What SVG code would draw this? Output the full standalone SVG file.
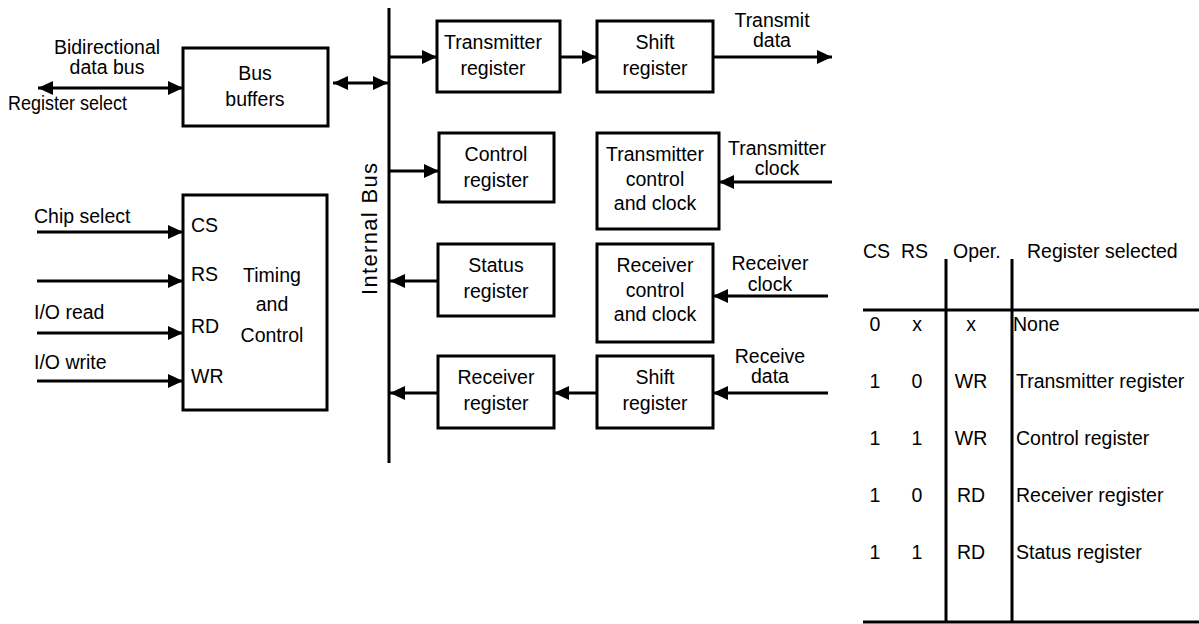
<svg xmlns="http://www.w3.org/2000/svg" width="1199" height="624" viewBox="0 0 1199 624">
<defs>
<marker id="ah" markerUnits="userSpaceOnUse" markerWidth="16" markerHeight="16" refX="15" refY="8" orient="auto-start-reverse">
<path d="M0,1 L15,8 L0,15 Z" fill="#000"/>
</marker>
</defs>
<style>
text{font-family:"Liberation Sans",Arial,sans-serif;font-size:19.5px;fill:#000}
.c{text-anchor:middle}
.box{fill:#fff;stroke:#000;stroke-width:3}
.ln{stroke:#000;stroke-width:3;fill:none}
.a{stroke:#000;stroke-width:3;fill:none;marker-end:url(#ah)}
.d{stroke:#000;stroke-width:3;fill:none;marker-end:url(#ah);marker-start:url(#ah)}
</style>
<rect width="1199" height="624" fill="#fff"/>

<g id="connectors">
<line class="ln" x1="389" y1="8" x2="389" y2="463"/>
<line class="d" x1="38" y1="88" x2="183" y2="88"/>
<line class="d" x1="333" y1="83" x2="388" y2="83"/>
<line class="a" x1="389" y1="57" x2="437" y2="57"/>
<line class="a" x1="560" y1="57" x2="597" y2="57"/>
<line class="a" x1="713" y1="57" x2="832" y2="57"/>
<line class="a" x1="389" y1="171" x2="439" y2="171"/>
<line class="a" x1="832" y1="182" x2="719" y2="182"/>
<line class="a" x1="438" y1="281" x2="390" y2="281"/>
<line class="a" x1="828" y1="296" x2="713" y2="296"/>
<line class="a" x1="438" y1="393" x2="390" y2="393"/>
<line class="a" x1="597" y1="393" x2="554" y2="393"/>
<line class="a" x1="828" y1="393" x2="713" y2="393"/>
<line class="a" x1="37" y1="232" x2="183" y2="232"/>
<line class="a" x1="37" y1="281" x2="183" y2="281"/>
<line class="a" x1="37" y1="333" x2="183" y2="333"/>
<line class="a" x1="37" y1="381" x2="183" y2="381"/>
</g>

<g id="labels">
<text class="c" x="107" y="54">Bidirectional</text>
<text class="c" x="107" y="74">data bus</text>
<text x="8" y="110" textLength="119" lengthAdjust="spacingAndGlyphs">Register select</text>
<text class="c" x="772" y="27">Transmit</text>
<text class="c" x="772" y="47">data</text>
<text class="c" x="777" y="155">Transmitter</text>
<text class="c" x="777" y="175">clock</text>
<text class="c" x="770" y="270">Receiver</text>
<text class="c" x="770" y="291">clock</text>
<text class="c" x="770" y="363">Receive</text>
<text class="c" x="770" y="383">data</text>
<text x="34" y="223">Chip select</text>
<text x="34" y="319">I/O read</text>
<text x="34" y="369">I/O write</text>
<text class="c" transform="translate(377,229) rotate(-90)" style="font-size:22px" textLength="132" lengthAdjust="spacing">Internal Bus</text>
</g>

<g id="bus-buffers">
<rect class="box" x="183" y="48" width="145" height="78"/>
<text class="c" x="255" y="80">Bus</text>
<text class="c" x="255" y="106">buffers</text>
</g>
<g id="transmitter-register">
<rect class="box" x="437" y="21" width="123" height="71"/>
<text class="c" x="493" y="49">Transmitter</text>
<text class="c" x="493" y="75">register</text>
</g>
<g id="tx-shift-register">
<rect class="box" x="597" y="21" width="116" height="71"/>
<text class="c" x="655" y="49">Shift</text>
<text class="c" x="655" y="75">register</text>
</g>
<g id="control-register">
<rect class="box" x="439" y="133" width="115" height="69"/>
<text class="c" x="496" y="161">Control</text>
<text class="c" x="496" y="187">register</text>
</g>
<g id="transmitter-control">
<rect class="box" x="597" y="133" width="122" height="96"/>
<text class="c" x="655" y="161">Transmitter</text>
<text class="c" x="655" y="186">control</text>
<text class="c" x="655" y="210">and clock</text>
</g>
<g id="status-register">
<rect class="box" x="438" y="244" width="116" height="72"/>
<text class="c" x="496" y="272">Status</text>
<text class="c" x="496" y="298">register</text>
</g>
<g id="receiver-control">
<rect class="box" x="597" y="244" width="116" height="98"/>
<text class="c" x="655" y="272">Receiver</text>
<text class="c" x="655" y="297">control</text>
<text class="c" x="655" y="321">and clock</text>
</g>
<g id="receiver-register">
<rect class="box" x="438" y="356" width="116" height="72"/>
<text class="c" x="496" y="384">Receiver</text>
<text class="c" x="496" y="410">register</text>
</g>
<g id="rx-shift-register">
<rect class="box" x="597" y="356" width="116" height="72"/>
<text class="c" x="655" y="384">Shift</text>
<text class="c" x="655" y="410">register</text>
</g>
<g id="timing-control">
<rect class="box" x="183" y="195" width="144" height="215"/>
<text x="191" y="232">CS</text>
<text x="191" y="281">RS</text>
<text x="191" y="333">RD</text>
<text x="191" y="383">WR</text>
<text class="c" x="272" y="282">Timing</text>
<text class="c" x="272" y="311">and</text>
<text class="c" x="272" y="342">Control</text>
</g>

<g id="table">
<line class="ln" x1="863" y1="310" x2="1199" y2="310"/>
<line class="ln" x1="863" y1="622" x2="1199" y2="622"/>
<line class="ln" x1="946" y1="259" x2="946" y2="622"/>
<line class="ln" x1="1012" y1="259" x2="1012" y2="622"/>
<text x="863" y="258">CS</text>
<text x="901" y="258">RS</text>
<text x="953" y="258">Oper.</text>
<text x="1027" y="258">Register selected</text>
<text class="c" x="875" y="331">0</text><text class="c" x="917" y="331">x</text><text class="c" x="971" y="331">x</text><text x="1013" y="331">None</text>
<text class="c" x="875" y="388">1</text><text class="c" x="917" y="388">0</text><text class="c" x="971" y="388">WR</text><text x="1016" y="388">Transmitter register</text>
<text class="c" x="875" y="445">1</text><text class="c" x="917" y="445">1</text><text class="c" x="971" y="445">WR</text><text x="1016" y="445">Control register</text>
<text class="c" x="875" y="502">1</text><text class="c" x="917" y="502">0</text><text class="c" x="971" y="502">RD</text><text x="1016" y="502">Receiver register</text>
<text class="c" x="875" y="559">1</text><text class="c" x="917" y="559">1</text><text class="c" x="971" y="559">RD</text><text x="1016" y="559">Status register</text>
</g>
</svg>
